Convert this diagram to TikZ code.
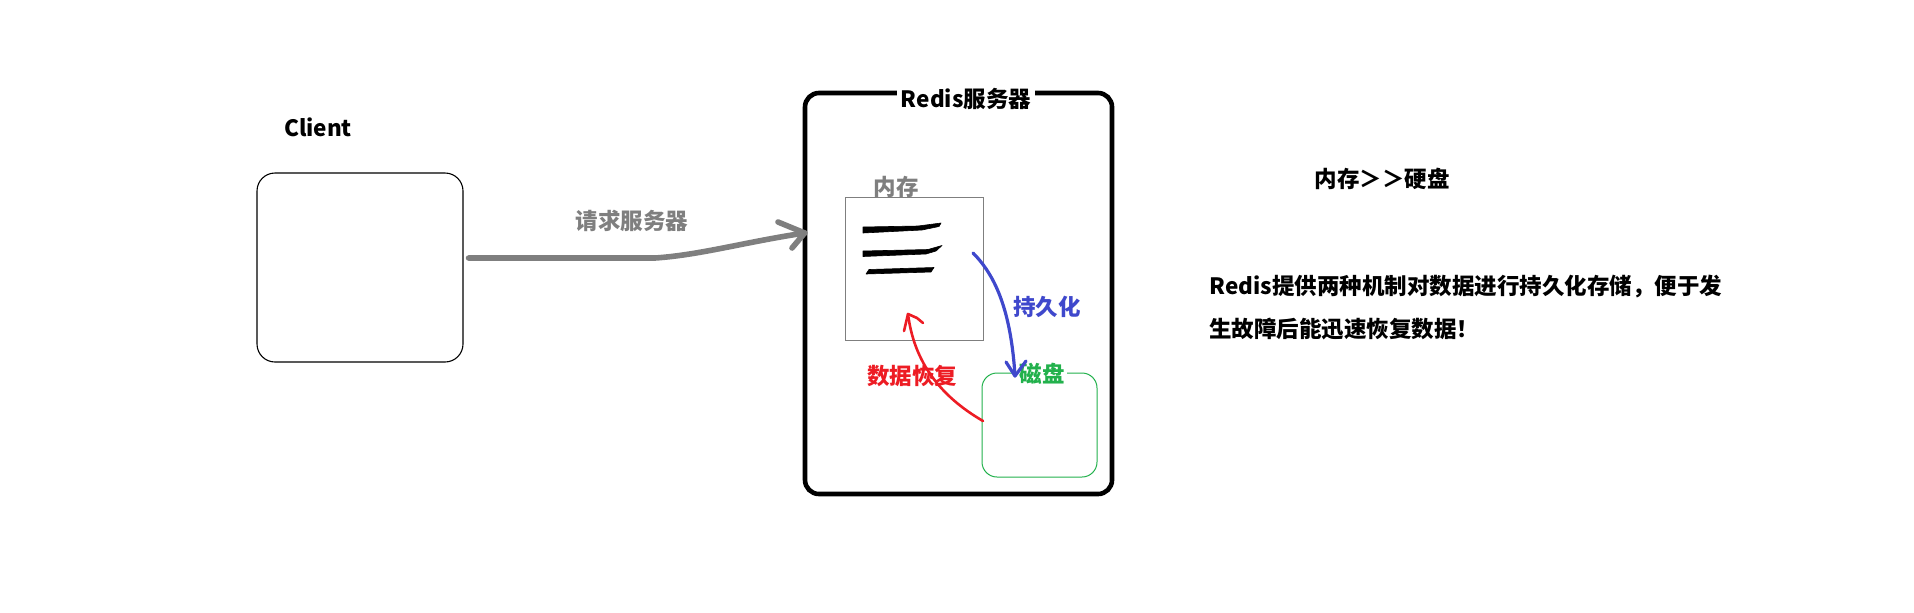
\documentclass[tikz,border=0pt]{standalone}
\usepackage{fontspec}
\setmainfont{Noto Sans CJK SC}
\usetikzlibrary{calc}
\definecolor{rgray}{RGB}{127,127,127}
\definecolor{rblue}{RGB}{63,72,204}
\definecolor{rred}{RGB}{237,28,36}
\definecolor{rgreen}{RGB}{34,177,76}
\begin{document}
\begin{tikzpicture}[x=0.5pt,y=-0.5pt,
  txt/.style={font=\fontsize{11.25pt}{13pt}\selectfont\bfseries, inner sep=0pt},
  box/.style={draw, inner sep=0pt},
  penline/.style={line cap=round, line join=round},
  brush/.style={fill=black, draw=black, line width=0.3pt, line join=round}]
\useasboundingbox (0,0) rectangle (1914,612);

% Client
\node[txt] (clientlabel) at (318,127) {Client};
\node[box, line width=0.55pt, rounded corners=9pt, minimum width=103pt, minimum height=94.5pt] (client) at (360,267.5) {};

% Server
\node[box, line width=2.3pt, rounded corners=7pt, minimum width=153.5pt, minimum height=200.5pt] (server) at (958.5,293.5) {};
\node[txt, fill=white, inner xsep=2pt, inner ysep=1pt] (servertitle) at (966,99) {Redis服务器};

% Memory
\node[box, draw=rgray, line width=0.5pt, minimum width=69pt, minimum height=71.5pt] (mem) at (914,268.5) {};
\node[txt, text=rgray] (memlabel) at (896,187) {内存};
\fill[brush] (863,227) -- (918,226) -- (941,223) -- (939,226.5) -- (922,230) -- (863,233) -- cycle;
\fill[brush] (863,251) -- (928,249.5) -- (942,245.5) -- (936,251) -- (926,254) -- (863,256.5) -- cycle;
\fill[brush] (869,269.5) -- (934,267.5) -- (931,272) -- (866,274) -- cycle;

% Disk
\node[box, draw=rgreen, line width=0.5pt, rounded corners=7.5pt, minimum width=57.5pt, minimum height=52pt] (disk) at (1039.5,425) {};
\node[txt, text=rgreen, fill=white, inner xsep=1pt] (disklabel) at (1042,374) {磁盘};

% Request arrow
\coordinate (reqstart) at ($(client.east)+(5,-9.5)$);
\coordinate (reqtip) at ($(server.west)+(2,-60.5)$);
\draw[penline, rgray, line width=2.8pt] (reqstart) -- (655,258) .. controls (700,255) and (745,242) .. (reqtip);
\draw[penline, rgray, line width=2.8pt] (778,222) -- (reqtip) -- (792,248);
\node[txt, text=rgray] (reqlabel) at (632,221) {请求服务器};

% Persistence arrow
\coordinate (pstart) at (973,253);
\coordinate (ptip) at (1015,376);
\draw[penline, rblue, line width=1.6pt] (pstart) .. controls (996,276) and (1011,312) .. (ptip);
\draw[penline, rblue, line width=1.6pt] (1006,362) -- (ptip) -- (1026,361);
\node[txt, text=rblue] (plabel) at (1047,307) {持久化};

% Recovery arrow
\coordinate (rstart) at (983,421);
\coordinate (rtip) at (908,314);
\draw[penline, rred, line width=1.3pt] (rstart) .. controls (940,396) and (914,362) .. (rtip);
\draw[penline, rred, line width=1.3pt] (904,331) -- (rtip) -- (917,318) -- (923,323);
\node[txt, text=rred] (rlabel) at (912,376) {数据恢复};

% Notes
\node[txt] (cmp) at (1382,179) {内存＞＞硬盘};
\node[txt, anchor=west] (note1) at (1209,287) {Redis提供两种机制对数据进行持久化存储，便于发};
\node[txt, anchor=west] (note2) at (1209,329) {生故障后能迅速恢复数据！};
\end{tikzpicture}
\end{document}
